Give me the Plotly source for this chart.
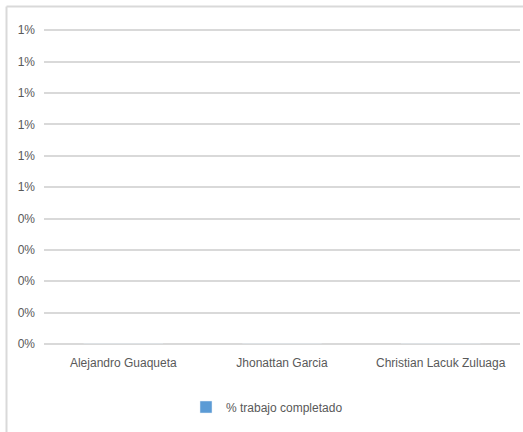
import plotly.graph_objects as go

categories = ["Alejandro Guaqueta", "Jhonattan Garcia", "Christian Lacuk Zuluaga"]
values = [0, 0, 0]
series_name = "% trabajo completado"
tick_vals = [0.000, 0.001, 0.002, 0.003, 0.004, 0.005, 0.006, 0.007, 0.008, 0.009, 0.010]
tick_text = ["0%", "0%", "0%", "0%", "0%", "1%", "1%", "1%", "1%", "1%", "1%"]

W, H = 523, 432
ML, MR, MT, MB = 44, 3, 24, 88
pw, ph = W - ML - MR, H - MT - MB

def px_x(x):
    return (x - ML) / pw

def px_y(y):
    return (H - MB - y) / ph

FONT = "Liberation Sans Narrow, Arial Narrow, Liberation Sans, sans-serif"
TXT = "#595959"
GRID = "#d9d9d9"

fig = go.Figure()
fig.add_trace(go.Bar(x=categories, y=values, name=series_name,
                     marker_color="#5b9bd5", showlegend=True))

fig.update_layout(
    width=W, height=H,
    margin=dict(l=ML, r=MR, t=MT, b=MB),
    paper_bgcolor="white", plot_bgcolor="white",
    font=dict(family=FONT, size=12, color=TXT),
    showlegend=True,
    legend=dict(orientation="h", x=px_x(186), y=px_y(407), xanchor="left", yanchor="middle",
                font=dict(family=FONT, size=12, color=TXT), itemwidth=30, bgcolor="rgba(0,0,0,0)"),
    bargap=0.5,
    xaxis=dict(showgrid=False, showline=False, zeroline=False, ticks="",
               ticklabelstandoff=10, tickfont=dict(family=FONT, size=12, color=TXT)),
    yaxis=dict(range=[0, 0.0102], tickvals=tick_vals, ticktext=tick_text,
               showgrid=True, gridcolor=GRID, gridwidth=1.5,
               zeroline=True, zerolinecolor=GRID, zerolinewidth=1.5,
               showline=False, ticks="", ticklabelstandoff=8,
               tickfont=dict(family=FONT, size=12, color=TXT)),
    shapes=[
        dict(type="line", xref="paper", yref="paper",
             x0=px_x(6.5), x1=px_x(W + 2), y0=px_y(6.5), y1=px_y(6.5),
             line=dict(color=GRID, width=2)),
        dict(type="line", xref="paper", yref="paper",
             x0=px_x(6.5), x1=px_x(6.5), y0=px_y(6.5), y1=px_y(H + 2),
             line=dict(color=GRID, width=2)),
    ],
)

fig.write_html("out.html")
